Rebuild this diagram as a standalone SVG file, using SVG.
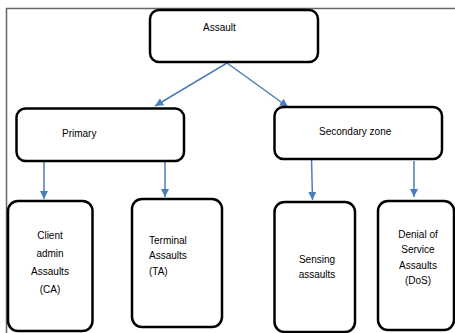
<svg xmlns="http://www.w3.org/2000/svg" width="455" height="333" viewBox="0 0 455 333">
<style>
.box{fill:#fff;stroke:#000;stroke-width:2.5}
.t{font-family:"Liberation Sans",Arial,sans-serif;font-size:10px;fill:#000}
.c{stroke:#4a7ebb;stroke-width:1.5;fill:none}
</style>
<defs>
<marker id="ah" viewBox="0 0 10 10" refX="10" refY="5" markerWidth="5.5" markerHeight="5.5" markerUnits="strokeWidth" orient="auto">
<path d="M0,0 L10,5 L0,10 z" fill="#4a7ebb"/>
</marker>
</defs>
<rect width="455" height="333" fill="#fff"/>
<path d="M6.5,333 V8.5 H455" fill="none" stroke="#666" stroke-width="1.5"/>
<g id="connectors">
<line class="c" x1="227" y1="63" x2="155" y2="106" marker-end="url(#ah)"/>
<line class="c" x1="227" y1="63" x2="288" y2="107" marker-end="url(#ah)"/>
<line class="c" x1="44" y1="161" x2="44" y2="199" marker-end="url(#ah)"/>
<line class="c" x1="165" y1="160" x2="165" y2="197" marker-end="url(#ah)"/>
<line class="c" x1="311.5" y1="158" x2="312.5" y2="200" marker-end="url(#ah)"/>
<line class="c" x1="414" y1="161" x2="414" y2="197" marker-end="url(#ah)"/>
</g>
<g id="assault">
<rect class="box" x="150" y="10" width="168" height="52" rx="9"/>
<text class="t" x="203" y="31">Assault</text>
</g>
<g id="primary">
<rect class="box" x="16.5" y="108.5" width="167.5" height="52.5" rx="9"/>
<text class="t" x="62" y="137">Primary</text>
</g>
<g id="secondary">
<rect class="box" x="274.5" y="107" width="167.5" height="52" rx="9"/>
<text class="t" x="319" y="135">Secondary zone</text>
</g>
<g id="ca">
<rect class="box" x="8" y="201" width="84.5" height="130" rx="10"/>
<text class="t" text-anchor="middle" x="50" y="239">Client</text>
<text class="t" text-anchor="middle" x="50" y="257">admin</text>
<text class="t" text-anchor="middle" x="50" y="275">Assaults</text>
<text class="t" text-anchor="middle" x="50" y="293">(CA)</text>
</g>
<g id="ta">
<rect class="box" x="132" y="199" width="90" height="128" rx="10"/>
<text class="t" x="149" y="244">Terminal</text>
<text class="t" x="149" y="259">Assaults</text>
<text class="t" x="149" y="275">(TA)</text>
</g>
<g id="sensing">
<rect class="box" x="274.5" y="202" width="80.5" height="130" rx="10"/>
<text class="t" text-anchor="middle" x="317" y="263">Sensing</text>
<text class="t" text-anchor="middle" x="317" y="278">assaults</text>
</g>
<g id="dos">
<rect class="box" x="378" y="201" width="76" height="129" rx="10"/>
<text class="t" text-anchor="middle" x="418" y="238">Denial of</text>
<text class="t" text-anchor="middle" x="418" y="253">Service</text>
<text class="t" text-anchor="middle" x="418" y="269">Assaults</text>
<text class="t" text-anchor="middle" x="418" y="284">(DoS)</text>
</g>
</svg>
